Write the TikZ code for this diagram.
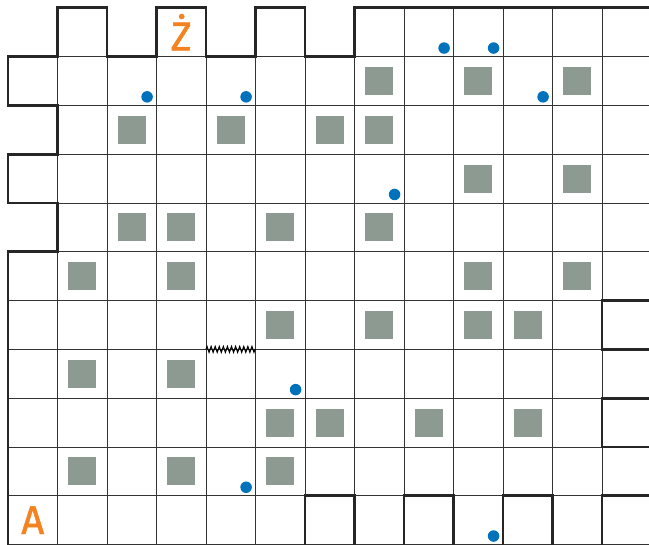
\documentclass[tikz,border=0pt]{standalone}
\usepackage{fontspec}
\setmainfont{Fira Sans}
\newfontfamily\letterfont{Fira Sans}[FakeBold=1.2]
\usepackage{tikz}
\usetikzlibrary{decorations.pathmorphing}
\usepackage{xcolor}
\definecolor{markorange}{RGB}{245,130,32}
\definecolor{coinblue}{RGB}{0,114,188}
\definecolor{rockgray}{RGB}{140,154,146}

\begin{document}
\begin{tikzpicture}[x=1.3cm, y=1.2816cm,
		thinline/.style={line width=.6pt, black!80},
		wall/.style={line width=2pt, black!85},
		rock/.style={fill=rockgray},
		letter/.style={text=markorange, font=\letterfont\fontsize{30}{30}\selectfont}]
			\useasboundingbox (-0.162,0.01) rectangle (12.95,11.16);
			\foreach \x in {1,...,12} {\draw[thinline] (\x,0) -- (\x,11);};
			\foreach \y in {0,...,10} {\draw[thinline] (0,\y) -- (13.2,\y);};
			\draw[wall] (0,0) -- (0,6) -- (1,6) -- (1,7) -- (0,7) -- (0,8) -- (1,8) -- (1,9) -- (0,9) -- (0,10) -- (1,10) -- (1,11) -- (2,11) -- (2,10) -- (3,10) -- (3,11) -- (4,11) -- (4,10) -- (5,10) -- (5,11) -- (6,11) -- (6,10) -- (7,10) -- (7,11) -- (13.2,11);
			\foreach \y in {4,2} {\draw[wall] (13.2,\y+1) -- (12,\y+1) -- (12,\y) -- (13.2,\y);};
			\draw[wall] (13.2,1) -- (12,1) -- (12,0);
			\foreach \x in {6,8,10} {\draw[wall] (\x,0) -- (\x,1) -- (\x+1,1) -- (\x+1,0);};
			\foreach \c/\y in {7/9,9/9,11/9,2/8,4/8,6/8,7/8,9/7,11/7,2/6,3/6,5/6,7/6,1/5,3/5,9/5,11/5,5/4,7/4,9/4,10/4,1/3,3/3,5/2,6/2,8/2,10/2,1/1,3/1,5/1} {\fill[rock] (\c+.217,\y+.213) rectangle +(.566,.574);};
			\foreach \x/\y in {3/9,5/9,9/10,10/10,11/9,8/7,6/3,5/1,10/0} {\fill[coinblue] (\x-.19,\y+.175) circle (4.3pt);};
			\draw[line width=.8pt, decorate, decoration={zigzag, segment length=3.05pt, amplitude=2.2pt}] (4,4) -- (5,4);
			\node[letter] (Z) at (3.5,10.5) {Ż};
			\node[letter] (A) at (0.5,0.5) {A};
		\end{tikzpicture}
\end{document}
